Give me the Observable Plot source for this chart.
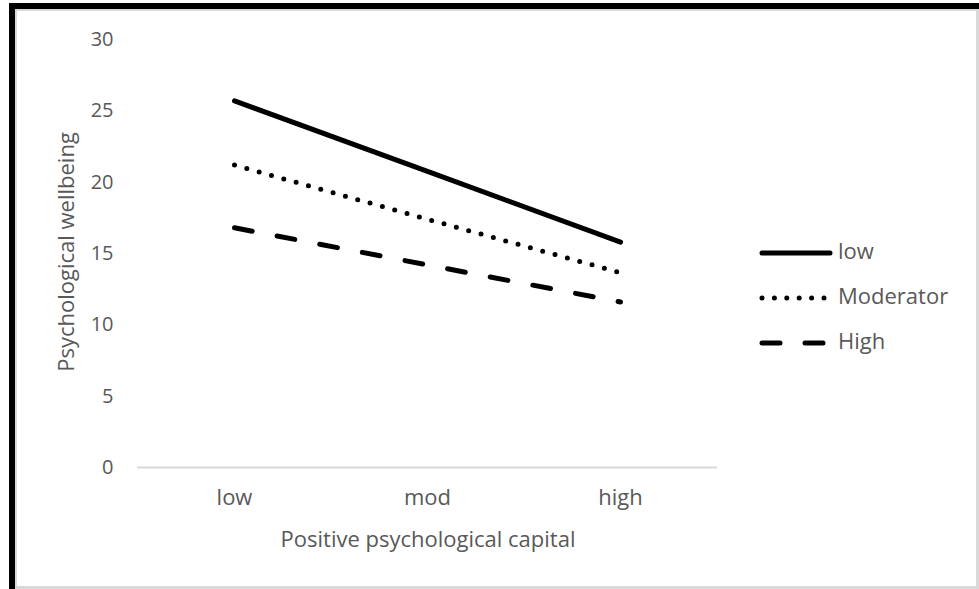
<!DOCTYPE html>
<html>
<head>
<meta charset="utf-8">
<script src="https://cdn.jsdelivr.net/npm/d3@7"></script>
<script src="https://cdn.jsdelivr.net/npm/@observablehq/plot@0.6"></script>
<style>
  html, body { margin: 0; padding: 0; background: #fff; }
  #chart { position: absolute; left: 0; top: 0; width: 979px; height: 589px; }
</style>
</head>
<body>
<div id="chart"></div>
<script>
// ---- data ----
const categories = ["low", "mod", "high"];
const seriesNames = ["low", "Moderator", "High"];
const lowValues = [25.7, 20.75, 15.8];
const moderatorValues = [21.2, 17.4, 13.65];
const highValues = [16.8, 14.2, 11.6];
const yTicks = [0, 5, 10, 15, 20, 25, 30];
const xTitle = "Positive psychological capital";
const yTitle = "Psychological wellbeing";

const seriesValues = [lowValues, moderatorValues, highValues];
const dashes = {"low": null, "Moderator": "0 12.8", "High": "18 25.4"};
const legendDashes = {"low": null, "Moderator": "0 12.4", "High": "18 25"};

const rows = [];
seriesNames.forEach((s, i) => categories.forEach((c, j) => rows.push({series: s, cat: c, value: seriesValues[i][j]})));

const font = "'Open Sans', Lato, sans-serif";
const gray = "#595959";
const fsNum = 20;
const fs = 22;

const W = 979, H = 589;
const plot = Plot.plot({
  width: W,
  height: H,
  marginLeft: 137,
  marginRight: 262,
  marginTop: 39,
  marginBottom: 122,
  style: {fontFamily: font, background: "transparent", overflow: "visible"},
  x: {type: "point", domain: categories, padding: 0.5},
  y: {domain: [0, 30]},
  marks: [
    Plot.ruleY([0], {stroke: "#d9d9d9", strokeWidth: 2}),
    Plot.axisY({ticks: yTicks, tickSize: 0, tickPadding: 24, label: null, fontSize: fsNum, fill: gray, tickFormat: d => String(d)}),
    Plot.axisX({tickSize: 0, tickPadding: 22, label: null, fontSize: fs, fill: gray}),
    ...seriesNames.map(s => Plot.line(rows.filter(r => r.series === s), {
      x: "cat", y: "value", stroke: "#000", strokeWidth: 5,
      strokeLinecap: "round", strokeLinejoin: "round",
      strokeDasharray: dashes[s]
    }))
  ]
});
document.getElementById("chart").appendChild(plot);

const svg = d3.select(plot);

// border frame
svg.append("rect").attr("x", 9).attr("y", 3).attr("width", W - 9).attr("height", 6).attr("fill", "#000");
svg.append("rect").attr("x", 9).attr("y", 3).attr("width", 6).attr("height", H - 3).attr("fill", "#000");
svg.append("rect").attr("x", 15).attr("y", 9).attr("width", W - 18).attr("height", 2).attr("fill", "#d9d9d9");
svg.append("rect").attr("x", 15).attr("y", 9).attr("width", 2).attr("height", H - 9).attr("fill", "#d9d9d9");
svg.append("rect").attr("x", W - 3).attr("y", 9).attr("width", 3).attr("height", H - 9).attr("fill", "#d9d9d9");
svg.append("rect").attr("x", 15).attr("y", H - 3).attr("width", W - 15).attr("height", 3).attr("fill", "#d9d9d9");

// axis titles
svg.append("text").attr("x", 428).attr("y", 541).attr("text-anchor", "middle").attr("dominant-baseline", "middle")
  .attr("font-family", font).attr("font-size", fs).attr("fill", gray).text(xTitle);
svg.append("text").attr("transform", "translate(68,252) rotate(-90)").attr("text-anchor", "middle").attr("dominant-baseline", "middle")
  .attr("font-family", font).attr("font-size", fs).attr("fill", gray).text(yTitle);

// legend
const legendY = [253, 298, 343];
seriesNames.forEach((s, i) => {
  const y = legendY[i];
  svg.append("line").attr("x1", 762).attr("x2", 830).attr("y1", y).attr("y2", y)
    .attr("stroke", "#000").attr("stroke-width", 5).attr("stroke-linecap", "round")
    .attr("stroke-dasharray", legendDashes[s]);
  svg.append("text").attr("x", 838).attr("y", y).attr("text-anchor", "start").attr("dominant-baseline", "middle")
    .attr("font-family", font).attr("font-size", fs).attr("fill", gray).text(s);
});
</script>
</body>
</html>
